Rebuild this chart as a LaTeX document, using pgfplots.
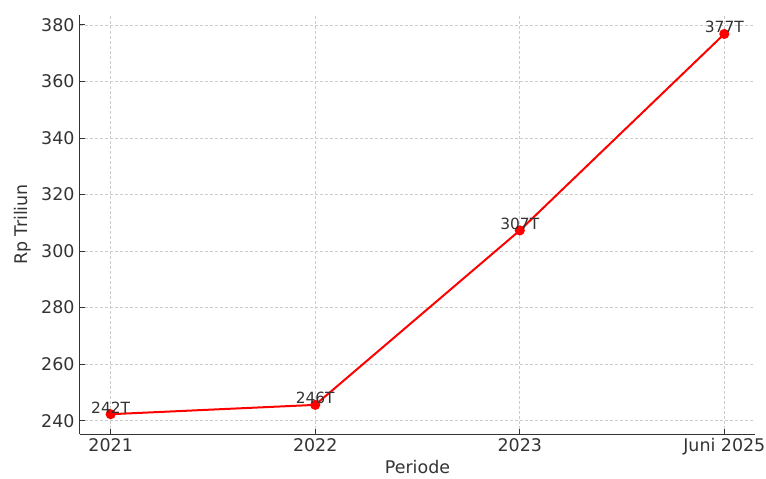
\documentclass[border=0pt]{standalone}
\usepackage{pgfplots}
\pgfplotsset{compat=1.18}
\usepackage{fontspec}
\setmainfont{DejaVu Sans}
\usetikzlibrary{calc}
\definecolor{txt}{HTML}{333333}
\definecolor{gridc}{HTML}{CCCCCC}

\begin{document}
\begin{tikzpicture}
\begin{axis}[
  scale only axis,
  width=675bp, height=419bp,
  xmin=-0.15, xmax=3.15,
  ymin=235.3, ymax=383.5,
  xtick={0,1,2,3},
  xticklabels={2021,2022,2023,Juni 2025},
  ytick={240,260,...,380},
  axis x line*=bottom, axis y line*=left,
  axis line style={draw=txt, line width=1bp, -},
  tick style={draw=txt, line width=0.8bp},
  tick align=inside,
  major tick length=5bp,
  grid=major,
  major grid style={draw=gridc, dash pattern=on 3bp off 2bp, line width=0.7bp},
  ticklabel style={font=\fontsize{17.5}{20}\selectfont, text=txt},
  /pgf/number format/assume math mode=true,
  yticklabel style={xshift=-2bp},
  xticklabel style={yshift=-1bp},
  xlabel={Periode}, ylabel={Rp Triliun},
  label style={font=\fontsize{17.5}{20}\selectfont, text=txt},
  xlabel style={yshift=0bp, inner sep=1bp},
  ylabel style={yshift=3bp},
  clip=false,
]
\addplot[color=red, line width=2bp, mark=*, mark size=4bp,
  mark options={fill=red, draw=red},
  nodes near coords={\pgfmathprintnumber[fixed,precision=0]{\pgfplotspointmeta}T},
  point meta=y,
  every node near coord/.append style={font=\fontsize{15.5}{17}\selectfont, text=txt, anchor=south, yshift=-1bp, inner sep=1bp},
] coordinates {
  (0,242.3) (1,245.6) (2,307.3) (3,376.8)
};
\end{axis}
\pgfresetboundingbox
\path ($(current axis.south west)+(-80bp,-45bp)$) rectangle ($(current axis.north east)+(11bp,15bp)$);
\end{tikzpicture}
\end{document}
